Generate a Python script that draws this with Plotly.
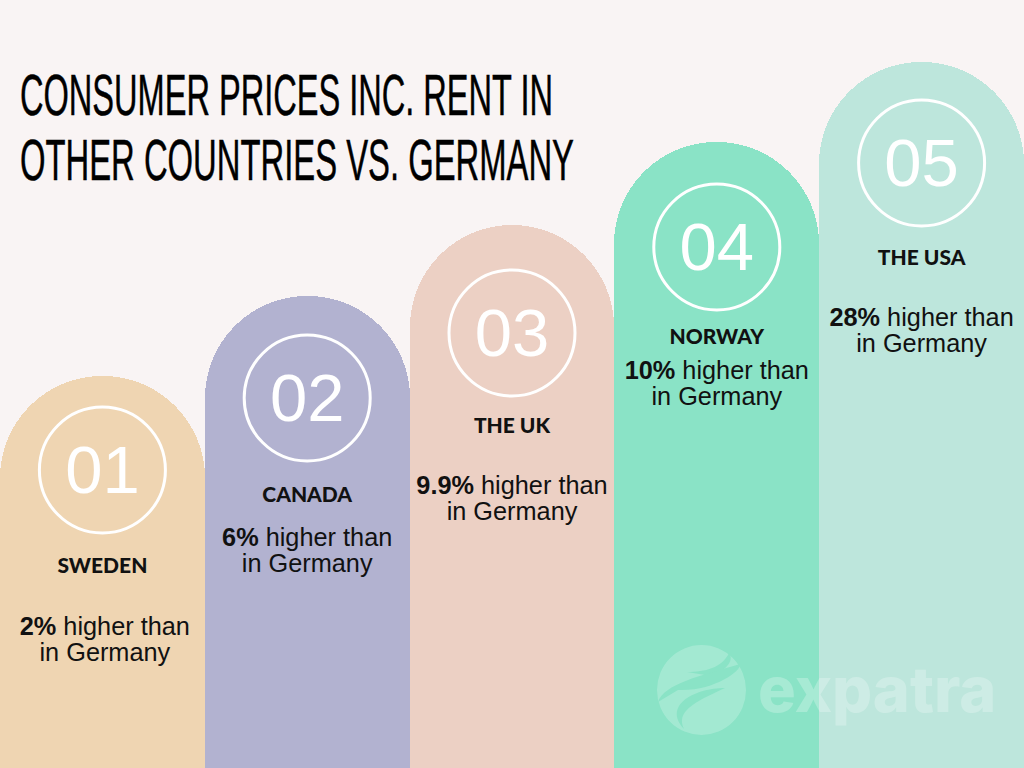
import plotly.graph_objects as go

countries = ["SWEDEN", "CANADA", "THE UK", "NORWAY", "THE USA"]
numbers = ["01", "02", "03", "04", "05"]
percents = ["2%", "6%", "9.9%", "10%", "28%"]
bar_heights = [392, 472, 543, 626, 706]
colors = ["#EFD5B2", "#B2B2D0", "#ECD0C4", "#8AE3C6", "#BDE6DC"]

# where the text sits, measured from the top of the page
circle_y = [470, 398, 333, 247, 163]
number_y = [476, 404, 339, 253, 169]
country_y = [568, 497, 428, 339, 260]
line1_y = [629, 540, 488, 373, 320]
line2_y = [655, 566, 514, 399, 346]
line_x = [0.012, 1, 2, 3, 4]

W, H = 1024, 768
BG = "#F9F4F4"
BODY = "Liberation Sans"


def up(ys):
    return [H - y for y in ys]


pos = list(range(5))

fig = go.Figure()
fig.add_trace(go.Bar(x=pos, y=bar_heights, width=1,
                     marker=dict(color=colors, line=dict(width=0), cornerradius=102)))

# number rings
fig.add_trace(go.Scatter(x=pos, y=up(circle_y), mode="markers",
                         marker=dict(size=126, color="rgba(0,0,0,0)",
                                     line=dict(width=3, color="white"))))
fig.add_trace(go.Scatter(x=pos, y=up(number_y), mode="text", text=numbers,
                         textposition="middle center",
                         textfont=dict(family=BODY, size=67, color="white")))
fig.add_trace(go.Scatter(x=pos, y=up(country_y), mode="text", text=countries,
                         textposition="middle center",
                         textfont=dict(family="Lato", size=21, weight=900, color="#111111")))
fig.add_trace(go.Scatter(x=line_x, y=up(line1_y), mode="text",
                         text=["<b>%s</b> higher than" % p for p in percents],
                         textposition="middle center",
                         textfont=dict(family=BODY, size=25.3, color="#111111")))
fig.add_trace(go.Scatter(x=line_x, y=up(line2_y), mode="text",
                         text=["in Germany"] * 5,
                         textposition="middle center",
                         textfont=dict(family=BODY, size=25.3, color="#111111")))


def px(x, y):
    return "%.4f %.4f" % (x / W, 1 - y / H)


# watermark logo
fig.add_shape(type="circle", xref="paper", yref="paper", layer="above", line_width=0,
              x0=657 / W, x1=746 / W, y0=1 - 735 / H, y1=1 - 645 / H,
              fillcolor="rgba(255,255,255,0.22)")
swirls = [
    [(687, 672), (705, 672), (722, 668), (729, 653), (735, 660), (725, 675), (705, 675)],
    [(658, 702), (664, 684), (700, 676), (740, 664), (742, 671), (712, 692), (678, 690)],
    [(725, 688), (695, 688), (662, 705), (684, 729), (676, 712), (692, 703), (725, 688)],
]
for s in swirls:
    p = "M " + px(*s[0]) + " C " + px(*s[1]) + " " + px(*s[2]) + " " + px(*s[3])
    p += " C " + px(*s[4]) + " " + px(*s[5]) + " " + px(*s[6]) + " Z"
    fig.add_shape(type="path", path=p, xref="paper", yref="paper", layer="above",
                  line_width=0, fillcolor=colors[3])

fig.add_annotation(text="expatra", x=877 / W, y=1 - 689 / H, xref="paper", yref="paper",
                   showarrow=False, xanchor="center", yanchor="middle",
                   font=dict(family="Inter", size=63, weight=800, color="rgba(255,255,255,0.25)"))

# title, one annotation per line
for txt, y in [("CONSUMER PRICES INC. RENT IN", 95), ("OTHER COUNTRIES VS. GERMANY", 159)]:
    fig.add_annotation(text=txt, x=20 / W, y=1 - y / H, xref="paper", yref="paper",
                       showarrow=False, xanchor="left", yanchor="middle",
                       font=dict(family=BODY, size=58, color="black"))

fig.update_layout(width=W, height=H, margin=dict(l=0, r=0, t=0, b=0), showlegend=False,
                  paper_bgcolor=BG, plot_bgcolor=BG, bargap=0)
fig.update_xaxes(visible=False, range=[-0.5, 4.5])
fig.update_yaxes(visible=False, range=[0, H])

# no condensed font installed, so squeeze the title lines to the reference width
post = """
document.body.style.margin = '0';
var widths = {'CONSUMER': 533, 'OTHER': 554};
document.querySelectorAll('.annotation-text').forEach(function (t) {
    var w = widths[t.textContent.split(' ')[0]];
    if (w) {
        t.setAttribute('textLength', w);
        t.setAttribute('lengthAdjust', 'spacingAndGlyphs');
        t.setAttribute('text-anchor', 'start');
        t.setAttribute('x', 0);
        t.style.stroke = 'black';
        t.style.strokeWidth = '0.5px';
        var bg = t.parentNode.querySelector('rect');
        if (bg) { bg.setAttribute('width', w); }
    }
});
"""
fig.write_html("out.html", post_script=post, config={"displayModeBar": False})
